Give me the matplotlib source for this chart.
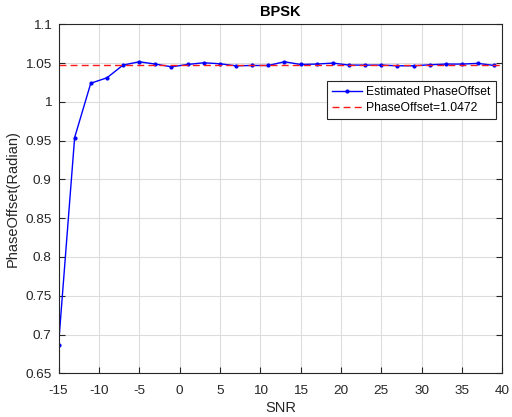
import matplotlib
matplotlib.use("Agg")
import matplotlib.pyplot as plt
import numpy as np

snr = list(range(-15, 40, 2))
estimated = [0.686, 0.954, 1.024, 1.031, 1.0474, 1.0517, 1.0487, 1.0452, 1.0482, 1.0504,
             1.0491, 1.0465, 1.0469, 1.0469, 1.0517, 1.0482, 1.0487, 1.0500, 1.0474, 1.0474,
             1.0474, 1.0465, 1.0465, 1.0478, 1.0487, 1.0487, 1.0496, 1.0469]
true_offset = 1.0472
xticks = list(range(-15, 41, 5))
yticks = [0.65, 0.7, 0.75, 0.8, 0.85, 0.9, 0.95, 1, 1.05, 1.1]
ytick_labels = ["0.65", "0.7", "0.75", "0.8", "0.85", "0.9", "0.95", "1", "1.05", "1.1"]

plt.rcParams['font.family'] = ['Liberation Sans', 'DejaVu Sans']
plt.rcParams['axes.unicode_minus'] = False
fig = plt.figure(figsize=(5.12, 4.17), dpi=100)
W, H = 512, 417
ax = fig.add_axes([58.5 / W, 1 - 373.3 / H, (502.3 - 58.5) / W, (373.3 - 24.3) / H])

ax.plot(snr, estimated, color='#0000ff', lw=1.0, marker='.', markersize=4,
        label='Estimated PhaseOffset')
ax.plot([-15, 40], [true_offset, true_offset], color='#ff1a1a', lw=1.0,
        linestyle=(0, (5, 3)), label='PhaseOffset=1.0472')

ax.set_xlim(-15, 40)
ax.set_ylim(0.65, 1.1)
ax.set_xticks(xticks)
ax.set_yticks(yticks)
ax.set_yticklabels(ytick_labels)
ax.grid(True, color='#dcdcdc', lw=0.8)
ax.set_axisbelow(True)
for s in ax.spines.values():
    s.set_color('#262626')
    s.set_linewidth(0.8)
ax.tick_params(direction='in', length=4, width=0.8, colors='#262626', labelsize=9.7,
               top=False, right=True)
ax.tick_params(axis='x', pad=8.5)
ax.tick_params(axis='y', right=True, labelright=False, pad=5)

ax.set_title('BPSK', fontsize=10.5, fontweight='bold', pad=6)
ax.set_xlabel('SNR', fontsize=10.5, color='#262626', labelpad=3)
ax.set_ylabel('PhaseOffset(Radian)', fontsize=10.5, color='#262626', labelpad=4)

leg = ax.legend(loc='upper right', bbox_to_anchor=(495.5 / W, 1 - 81 / H),
                bbox_transform=fig.transFigure, fontsize=8.7, fancybox=False,
                framealpha=1, edgecolor='#262626', handlelength=2.5,
                borderpad=0.4, labelspacing=0.35, handletextpad=0.35, borderaxespad=0)
leg.get_frame().set_linewidth(0.8)

fig.savefig('out.png', dpi=100)
